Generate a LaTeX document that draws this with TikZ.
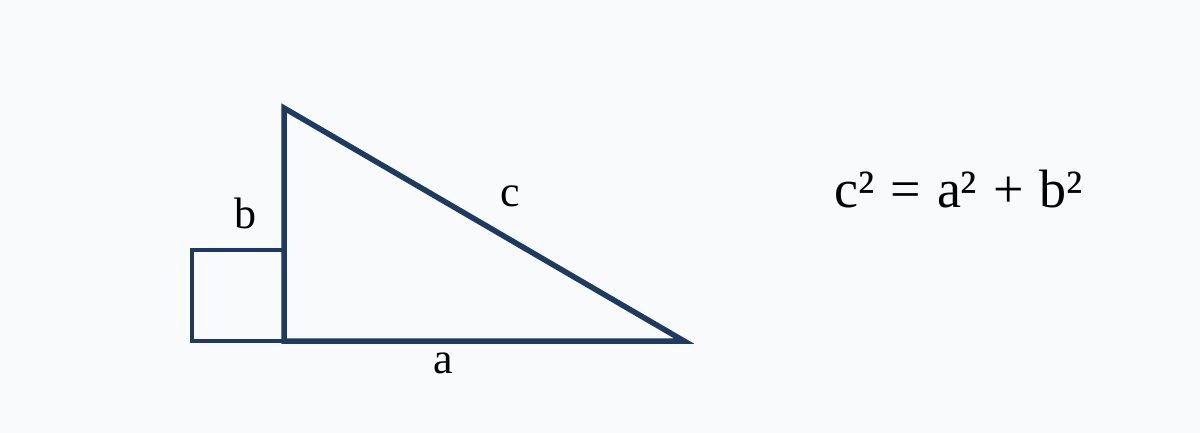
\documentclass[tikz,border=0pt]{standalone}
\usepackage{fontspec}
\setmainfont{Liberation Serif}
\usetikzlibrary{positioning}
\definecolor{navy}{HTML}{1E3A5F}
\definecolor{bgc}{HTML}{F8FAFC}
\tikzset{
    side/.style={draw=navy, line width=2.75pt, line join=miter},
    mark box/.style={draw=navy, line width=2pt},
    lbl/.style={font=\fontsize{22}{26}\selectfont, text=black, inner sep=0pt},
    formula/.style={font=\fontsize{27}{32}\selectfont, text=black, inner sep=0pt, anchor=base west}
}
\begin{document}
\begin{tikzpicture}[x=0.5pt, y=-0.5pt]
        \fill[bgc] (0,0) rectangle (1200,433);
        \useasboundingbox (0,0) rectangle (1200,433);
        \coordinate (A) at (284,108);
        \coordinate (B) at (284,341);
        \coordinate (C) at (684,341);
        \coordinate (S1) at (192,341);
        \coordinate (S2) at (192,250);
        \coordinate (S3) at (284,250);
        \draw[mark box] (B) -- (S1) -- (S2) -- (S3);
        \draw[side] (A) -- (B) -- (C) -- cycle;
        \node[lbl] (b) at (245,213) {b};
        \node[lbl] (c) at (510,196) {c};
        \node[lbl] (a) at (443,363) {a};
        \node[formula] (eq) at (834,207) {\spaceskip=8pt\relax c² = a² + b²};
    \end{tikzpicture}
\end{document}
